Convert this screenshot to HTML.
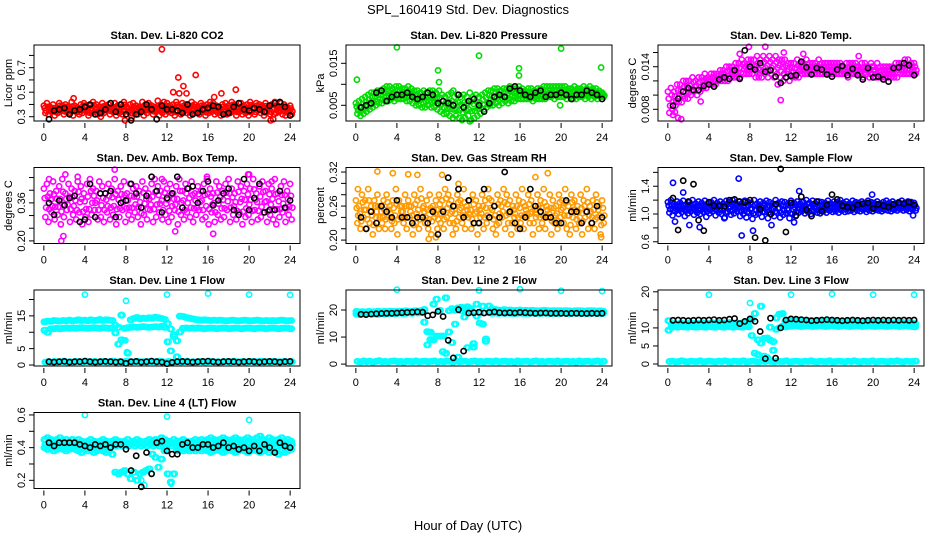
<!DOCTYPE html>
<html><head><meta charset="utf-8">
<style>
html,body{margin:0;padding:0;background:#fff;}
svg{display:block;font-family:"Liberation Sans",sans-serif;}
</style></head>
<body>
<svg id="chart" width="936" height="540" viewBox="0 0 936 540">
<rect x="0" y="0" width="936" height="540" fill="#fff"/>
<text x="468" y="14" font-size="13" text-anchor="middle">SPL_160419  Std. Dev. Diagnostics</text>
<text x="468" y="530" font-size="13" text-anchor="middle">Hour of Day (UTC)</text>
<g id="panels"></g>
</svg>
<script>
// shared time axes (hours)
const timesColored = [0,0.3,0.6,0.9,1.2,1.5,1.8,2.1,2.4,2.7,3,3.3,3.6,3.9,4.2,4.5,4.8,5.1,5.4,5.7,6,6.3,6.6,6.9,7.2,7.5,7.8,8.1,8.4,8.7,9,9.3,9.6,9.9,10.2,10.5,10.8,11.1,11.4,11.7,12,12.3,12.6,12.9,13.2,13.5,13.8,14.1,14.4,14.7,15,15.3,15.6,15.9,16.2,16.5,16.8,17.1,17.4,17.7,18,18.3,18.6,18.9,19.2,19.5,19.8,20.1,20.4,20.7,21,21.3,21.6,21.9,22.2,22.5,22.8,23.1,23.4,23.7,24];
const timesBlack = [0.5,1,1.5,2,2.5,3,3.5,4,4.5,5,5.5,6,6.5,7,7.5,8,8.5,9,9.5,10,10.5,11,11.5,12,12.5,13,13.5,14,14.5,15,15.5,16,16.5,17,17.5,18,18.5,19,19.5,20,20.5,21,21.5,22,22.5,23,23.5,24];
const xTicks = [0,4,8,12,16,20,24];

// P1 CO2
const co2A = [0.39,0.41,0.38,0.40,0.37,0.41,0.39,0.40,0.38,0.42,0.39,0.37,0.40,0.41,0.38,0.39,0.42,0.40,0.38,0.41,0.39,0.40,0.37,0.41,0.39,0.40,0.42,0.38,0.40,0.41,0.39,0.38,0.42,0.40,0.41,0.39,0.38,0.43,0.40,0.42,0.41,0.39,0.40,0.42,0.38,0.41,0.40,0.39,0.42,0.40,0.38,0.41,0.39,0.40,0.42,0.41,0.39,0.38,0.40,0.41,0.39,0.42,0.40,0.38,0.41,0.39,0.40,0.42,0.38,0.41,0.40,0.39,0.41,0.38,0.40,0.42,0.39,0.41,0.40,0.38,0.39];
const co2B = [0.33,0.32,0.34,0.31,0.33,0.35,0.32,0.34,0.33,0.31,0.34,0.32,0.33,0.35,0.31,0.33,0.34,0.32,0.30,0.33,0.35,0.32,0.34,0.31,0.33,0.32,0.35,0.34,0.29,0.33,0.32,0.34,0.31,0.33,0.35,0.32,0.34,0.31,0.33,0.32,0.34,0.33,0.31,0.35,0.32,0.34,0.33,0.31,0.33,0.34,0.32,0.35,0.31,0.33,0.34,0.32,0.33,0.31,0.34,0.32,0.33,0.35,0.31,0.34,0.32,0.33,0.31,0.34,0.32,0.35,0.33,0.31,0.34,0.32,0.28,0.33,0.34,0.32,0.31,0.33,0.32];
const co2OutT = [11.5,13.1,14.8,13.6,12.6,13.2,13.9,17.3,18.7,16.6,2.9,22.1,7.9];
const co2OutV = [0.85,0.62,0.64,0.55,0.50,0.49,0.49,0.49,0.52,0.46,0.45,0.27,0.27];
const co2Black = [0.28,0.35,0.36,0.37,0.32,0.35,0.36,0.38,0.40,0.32,0.33,0.36,0.41,0.34,0.40,0.32,0.27,0.32,0.34,0.40,0.36,0.28,0.39,0.36,0.36,0.35,0.33,0.40,0.32,0.33,0.36,0.37,0.39,0.38,0.32,0.33,0.38,0.41,0.36,0.35,0.37,0.36,0.34,0.39,0.41,0.42,0.38,0.31];

// P2 pressure
const presA = [.0055,.006,.0065,.007,.0075,.008,.008,.0085,.0085,.009,.0095,.0095,.009,.0095,.0095,.009,.009,.0095,.009,.0085,.0085,.008,.0085,.008,.0085,.0085,.008,.0085,.0075,.007,.0075,.008,.007,.0075,.007,.0075,.007,.008,.007,.0075,.007,.0075,.008,.0085,.0085,.009,.009,.0085,.009,.009,.0095,.009,.009,.0095,.009,.0085,.009,.009,.0085,.009,.009,.0095,.0095,.0095,.0095,.0095,.0095,.0095,.0095,.009,.009,.0095,.009,.009,.0095,.009,.0095,.009,.009,.0085,.008];
const presB = [.003,.0025,.003,.0035,.004,.0045,.005,.0055,.0055,.006,.006,.0065,.006,.0065,.0065,.0065,.006,.006,.0055,.005,.005,.0045,.0045,.005,.0045,.0045,.004,.0035,.003,.003,.0025,.002,.0025,.002,.0015,.002,.0025,.0015,.002,.0025,.003,.004,.0045,.005,.005,.0055,.005,.0055,.006,.0055,.006,.006,.0065,.0065,.0065,.0065,.0065,.006,.0065,.0065,.0065,.0065,.007,.007,.0065,.007,.007,.007,.0065,.007,.0065,.0065,.007,.007,.0065,.007,.0065,.007,.0065,.007,.007];
const presOutT = [0.1,4.0,12.0,20.0,23.9,8.0,8.1,15.9,15.9,9.5,19.9,11.1];
const presOutV = [.0111,.0188,.0168,.0185,.0140,.0133,.0105,.0138,.0121,.0085,.005,.0012];
const presBlack = [.0045,.005,.0055,.008,.0085,.006,.007,.0075,.0075,.008,.007,.0065,.007,.008,.0075,.0055,.006,.0055,.005,.0075,.0045,.006,.0065,.005,.0035,.0055,.007,.0075,.007,.009,.0095,.0085,.0075,.007,.008,.0085,.007,.0075,.0075,.008,.0075,.0065,.0075,.0075,.0085,.008,.0075,.0065];

// P3 Li-820 temp
const ltA = [.0105,.011,.0105,.0115,.0115,.012,.012,.012,.0125,.012,.0125,.0125,.013,.0125,.013,.013,.013,.0135,.0135,.014,.014,.014,.0145,.0145,.015,.0145,.015,.015,.015,.0155,.015,.0155,.015,.0155,.015,.0155,.015,.015,.015,.0145,.0145,.0145,.015,.0145,.0145,.015,.0145,.0145,.0145,.015,.0145,.0145,.0145,.0145,.0145,.0145,.0145,.014,.0145,.0145,.0145,.0145,.014,.0145,.0145,.014,.0145,.014,.0145,.014,.014,.014,.014,.014,.0145,.0145,.0145,.015,.015,.0145,.0145];
const ltB = [.0075,.008,.0085,.009,.009,.0095,.0095,.01,.0105,.01,.0105,.011,.011,.0115,.0115,.0115,.012,.012,.012,.012,.0125,.0125,.0125,.0125,.013,.013,.013,.013,.0125,.0125,.0125,.013,.0125,.013,.0125,.013,.0125,.012,.0125,.012,.0125,.0125,.0125,.013,.013,.013,.013,.013,.013,.013,.013,.013,.013,.013,.013,.013,.013,.013,.0125,.013,.013,.013,.013,.0125,.013,.0125,.013,.0125,.0125,.0125,.0125,.0125,.0125,.0125,.0125,.013,.013,.013,.013,.013,.013];
const ltOutT = [0.5,1.0,1.3,0.7,3.2,7.0,7.9,9.5,11.0,11.3,13.2,18.6,10.7];
const ltOutV = [.0072,.0068,.0066,.0076,.0091,.0158,.0168,.0168,.0093,.0160,.0158,.0155,.0115];
const ltBlack = [.0085,.0095,.0105,.011,.0107,.0107,.0113,.0115,.0112,.0122,.0125,.0123,.0135,.0123,.0163,.014,.0136,.0145,.0133,.0135,.0126,.0117,.0125,.0127,.0128,.0147,.0139,.0129,.0138,.0136,.0129,.0126,.0136,.0141,.0128,.0137,.0128,.0122,.0138,.0125,.0126,.0122,.0119,.0138,.0139,.0145,.0142,.0128];

// P4 ambient box temp
const abA = [.42,.44,.40,.45,.41,.43,.46,.40,.44,.42,.41,.45,.43,.40,.44,.46,.42,.41,.45,.43,.40,.44,.42,.46,.41,.43,.45,.40,.44,.42,.43,.41,.45,.42,.40,.44,.46,.43,.41,.45,.42,.44,.40,.43,.46,.41,.44,.42,.45,.40,.43,.41,.44,.46,.42,.40,.45,.43,.41,.44,.46,.42,.40,.45,.43,.41,.44,.42,.46,.40,.43,.45,.41,.44,.42,.46,.40,.43,.45,.41,.44];
const abB = [.30,.28,.32,.29,.31,.27,.30,.33,.28,.31,.29,.32,.27,.30,.28,.31,.33,.29,.30,.28,.32,.29,.31,.27,.30,.33,.28,.31,.29,.32,.30,.27,.31,.29,.33,.28,.30,.32,.29,.31,.28,.30,.33,.27,.31,.29,.32,.30,.28,.31,.33,.29,.30,.27,.32,.28,.31,.29,.30,.33,.28,.31,.29,.32,.27,.30,.31,.28,.33,.29,.30,.32,.28,.31,.29,.27,.30,.32,.28,.31,.29];
const abOutT = [1.7,1.9,6.9,0.5,2.1,3.3,11.5,15.9,20.0,12.8,16.5,19.9,22.2];
const abOutV = [.20,.22,.50,.46,.48,.47,.46,.47,.48,.24,.23,.48,.45];
const abBlack = [.36,.31,.37,.35,.38,.39,.28,.29,.44,.30,.40,.40,.41,.30,.36,.37,.44,.40,.34,.39,.47,.41,.32,.38,.40,.47,.34,.42,.43,.36,.41,.45,.35,.37,.40,.42,.33,.31,.46,.33,.38,.44,.32,.33,.33,.41,.34,.37];

// P5 gas stream RH
const rhA = [.27,.26,.28,.27,.29,.26,.27,.28,.26,.27,.28,.26,.27,.29,.27,.26,.28,.27,.26,.28,.27,.29,.26,.27,.28,.26,.27,.28,.27,.29,.28,.27,.26,.28,.27,.29,.26,.27,.28,.27,.26,.28,.27,.29,.27,.26,.28,.27,.29,.28,.27,.26,.28,.27,.29,.26,.28,.27,.26,.28,.27,.29,.26,.28,.27,.26,.28,.27,.29,.26,.28,.27,.26,.28,.27,.29,.26,.27,.28,.26,.27];
const rhB = [.23,.22,.24,.22,.23,.21,.24,.22,.23,.22,.24,.22,.23,.21,.24,.23,.22,.24,.21,.23,.22,.24,.23,.22,.21,.24,.22,.23,.22,.24,.23,.21,.22,.24,.23,.22,.24,.22,.23,.21,.24,.22,.23,.24,.22,.21,.23,.24,.22,.23,.21,.24,.22,.23,.22,.24,.23,.21,.24,.22,.23,.22,.24,.21,.23,.22,.24,.23,.22,.21,.24,.22,.23,.21,.24,.22,.23,.22,.24,.21,.23];
const rhOutT = [2.1,3.6,5.1,6.0,8.4,10.0,17.5,18.7,0.2,23.9,7.1,7.8];
const rhOutV = [.321,.318,.316,.315,.315,.299,.311,.318,.29,.205,.202,.205];
const rhBlack = [.24,.22,.25,.23,.26,.25,.24,.27,.24,.24,.23,.24,.24,.23,.25,.21,.25,.31,.26,.29,.24,.27,.23,.23,.29,.24,.26,.24,.32,.25,.23,.22,.24,.29,.26,.25,.24,.24,.23,.23,.27,.25,.25,.23,.25,.23,.26,.24];

// P6 sample flow
const sfA = [1.17,1.2,1.15,1.18,1.16,1.19,1.14,1.17,1.2,1.15,1.18,1.16,1.19,1.15,1.17,1.2,1.16,1.18,1.15,1.19,1.17,1.2,1.16,1.18,1.15,1.19,1.17,1.16,1.2,1.15,1.18,1.16,1.19,1.17,1.15,1.2,1.16,1.18,1.17,1.15,1.19,1.16,1.18,1.15,1.17,1.2,1.16,1.19,1.15,1.18,1.17,1.16,1.19,1.15,1.18,1.17,1.2,1.16,1.18,1.15,1.19,1.17,1.16,1.18,1.15,1.19,1.17,1.16,1.18,1.15,1.17,1.19,1.16,1.18,1.15,1.17,1.19,1.16,1.18,1.17,1.16];
const sfB = [1.02,0.98,1.04,1.0,1.03,0.97,1.01,1.04,0.99,1.02,1.0,1.03,0.96,1.01,1.04,0.98,1.02,1.0,0.95,1.03,0.99,1.01,1.04,0.97,1.0,0.95,1.02,0.93,0.99,1.01,0.96,1.03,0.94,1.0,0.97,1.02,0.95,0.99,1.01,0.94,1.0,0.97,1.02,1.04,1.01,1.03,1.0,1.04,1.02,1.01,1.04,1.02,1.05,1.03,1.04,1.02,1.05,1.03,1.04,1.05,1.03,1.05,1.04,1.06,1.03,1.05,1.04,1.06,1.05,1.04,1.06,1.05,1.04,1.06,1.05,1.07,1.05,1.06,1.04,1.06,1.05];
const sfOutT = [0.5,0.7,1.5,2.1,3.1,6.9,7.2,8.3,10.1,12.8,19.9,23.9,5.5,12.3];
const sfOutV = [1.45,0.89,1.31,0.84,0.81,1.51,0.69,0.76,0.84,1.33,1.28,0.98,0.94,0.88];
const sfBlack = [1.23,0.77,1.48,1.18,1.43,0.91,0.76,1.17,1.12,1.12,1.11,1.2,1.21,1.18,1.17,1.2,0.66,1.07,0.62,1.0,1.14,1.65,0.74,1.16,0.98,1.25,1.06,0.97,1.18,1.04,1.13,1.28,1.21,1.12,1.1,1.09,1.13,1.15,1.16,1.08,1.14,1.12,1.1,1.14,1.16,1.15,1.17,1.13];

// P7 line 1 flow
const l1A = [13.2,13.4,13.3,13.6,13.5,13.4,13.6,13.5,13.7,13.5,13.6,13.8,13.6,13.7,13.5,13.8,13.6,13.7,13.9,13.6,13.8,13.7,13.6,12.1,11.5,15.2,7.5,3.6,13.8,14.2,14.5,14.1,14.3,14.2,14.4,14.3,14.6,14.4,14.2,13.9,7.1,4.3,8.6,2.5,14.9,14.8,14.5,14.3,14.1,13.9,13.8,13.7,13.8,13.7,13.6,13.7,13.6,13.7,13.6,13.5,13.6,13.7,13.6,13.5,13.6,13.7,13.6,13.5,13.6,13.7,13.6,13.5,13.6,13.5,13.6,13.5,13.6,13.7,13.6,13.5,13.6];
const l1B = [10.6,10.0,11.0,11.1,11.2,11.1,11.2,11.3,11.2,11.3,11.2,11.3,11.4,11.3,11.2,11.3,11.4,11.3,11.2,11.4,11.3,11.2,11.3,9.8,6.4,7.7,11.2,11.4,11.5,11.6,11.5,11.6,11.7,11.6,11.5,11.6,11.7,11.6,11.8,11.5,12.6,11.0,9.3,7.4,10.1,11.2,11.3,11.2,11.3,11.2,11.3,11.2,11.1,11.2,11.3,11.2,11.1,11.2,11.3,11.2,11.1,11.2,11.3,11.2,11.1,11.2,11.3,11.2,11.1,11.2,11.3,11.2,11.1,11.2,11.3,11.2,11.1,11.2,11.3,11.2,11.1];
const l1C = [0.9,1.0,0.8,1.1,0.9,1.0,1.2,0.9,1.0,0.8,1.1,1.0,0.9,1.2,1.0,0.9,1.1,0.8,1.0,1.1,0.9,1.0,1.2,0.9,1.0,0.8,1.1,1.0,0.9,1.0,1.1,0.9,1.0,0.8,1.1,1.0,0.9,1.2,1.0,0.9,1.1,0.8,1.0,1.1,0.9,1.0,1.2,0.9,1.0,0.8,1.1,1.0,0.9,1.0,1.1,0.9,1.0,0.8,1.1,1.0,0.9,1.2,1.0,0.9,1.1,0.8,1.0,1.1,0.9,1.0,1.2,0.9,1.0,0.8,1.1,1.0,0.9,1.0,1.1,0.9,1.0];
const l1OutT = [4,12,16,20,24,8.0,7.6,8.1];
const l1OutV = [21.5,21.5,21.8,21.5,21.4,19.6,15.3,3.9];
const l1Black = [1.0,0.9,1.0,1.1,0.9,1.0,1.0,1.2,1.0,0.9,1.0,1.1,1.0,0.9,1.0,0.5,1.0,1.1,0.9,1.0,1.2,1.0,0.9,0.4,0.8,1.0,1.1,1.0,0.9,1.0,1.1,1.2,1.0,0.9,1.0,1.1,1.0,0.9,1.0,1.1,1.0,0.9,1.0,1.1,1.0,0.9,1.0,1.1];

// P8 line 2 flow
const l2A = [19.5,19.3,19.4,19.2,19.5,19.3,19.4,19.6,19.3,19.5,19.4,19.6,19.5,19.4,19.6,19.5,19.7,19.6,19.5,19.7,19.6,19.8,20.2,12.0,11.8,22.2,24.0,10.3,10.4,24.5,11.9,20.5,14.8,20.8,21.0,20.7,21.2,20.5,6.3,22.2,15.2,21.4,9.3,21.5,20.4,20.2,20.0,19.9,20.1,19.9,20.0,19.8,19.9,20.0,19.8,19.9,19.8,19.9,19.8,19.7,19.8,19.9,19.8,19.7,19.8,19.7,19.8,19.7,19.8,19.7,19.6,19.7,19.8,19.7,19.6,19.7,19.8,19.7,19.6,19.7,19.6];
const l2B = [18.5,18.3,18.6,18.4,18.7,18.5,18.6,18.4,18.7,18.5,18.6,18.8,18.6,18.7,18.9,18.7,18.8,19.0,18.8,19.1,18.9,19.0,15.5,7.1,9.1,8.9,10.3,19.9,4.6,4.0,19.8,8.0,19.9,2.5,19.7,17.4,6.1,19.5,7.6,17.8,18.9,14.8,8.4,19.0,18.8,18.9,18.8,18.9,18.8,18.9,18.8,18.7,18.8,18.9,18.8,18.7,18.8,18.9,18.8,18.7,18.8,18.9,18.8,18.7,18.8,18.7,18.8,18.9,18.8,18.7,18.8,18.9,18.8,18.7,18.8,18.7,18.8,18.9,18.8,18.7,18.8];
const l2C = [1.0,0.8,1.2,0.9,1.1,0.7,1.0,1.3,0.9,1.0,0.8,1.1,1.2,0.9,1.0,0.7,1.1,1.0,0.9,1.2,0.8,1.0,1.1,0.9,1.0,1.2,0.8,1.0,0.9,1.1,1.0,0.7,1.2,0.9,1.0,1.1,0.8,1.0,1.2,0.9,1.0,0.8,1.1,1.0,0.9,1.2,0.8,1.0,1.1,0.9,1.0,0.7,1.2,0.9,1.0,1.1,0.8,1.0,1.2,0.9,1.0,0.8,1.1,1.0,0.9,1.2,0.8,1.0,1.1,0.9,1.0,0.7,1.2,0.9,1.0,1.1,0.8,1.0,1.2,0.9,1.0];
const l2OutT = [4,12,16,20,24];
const l2OutV = [27.5,27.3,27.7,27.1,27.0];
const l2Black = [18.4,18.3,18.5,18.6,18.7,18.8,18.8,18.9,19.0,19.1,19.2,19.3,19.2,17.9,18.2,19.5,17.6,8.8,2.3,20.1,4.8,18.9,19.0,19.2,18.9,19.1,19.3,19.0,18.9,19.0,18.9,19.1,19.0,18.9,18.8,18.9,18.9,18.8,18.8,18.8,18.7,18.8,18.8,18.7,18.7,18.8,18.7,18.8];

// P9 line 3 flow
const l3A = [12.0,11.0,11.2,11.0,11.3,11.1,11.2,11.4,11.2,11.3,11.1,11.4,11.3,11.2,11.4,11.3,11.5,11.3,11.4,11.2,11.5,11.3,11.4,11.2,11.4,11.6,11.8,12.3,14.0,6.7,16.0,7.1,7.2,10.2,6.2,12.8,13.8,14.0,11.8,12.2,11.8,12.0,11.9,12.1,11.9,12.0,11.8,11.9,12.0,11.8,11.9,11.8,11.7,11.8,11.9,11.8,11.7,11.8,11.7,11.6,11.7,11.8,11.7,11.6,11.7,11.6,11.5,11.6,11.7,11.6,11.5,11.6,11.5,11.4,11.5,11.6,11.5,11.4,11.5,11.4,11.2];
const l3B = [9.4,10.2,10.3,10.2,10.4,10.3,10.2,10.4,10.3,10.2,10.4,10.3,10.2,10.4,10.3,10.2,10.4,10.3,10.2,10.4,10.3,10.2,10.4,10.3,10.2,10.4,10.3,7.9,3.0,2.6,5.8,2.2,1.8,6.6,3.8,9.6,10.0,10.5,10.3,10.4,10.5,10.6,10.5,10.4,10.5,10.6,10.5,10.4,10.5,10.6,10.5,10.4,10.5,10.6,10.5,10.4,10.5,10.6,10.5,10.4,10.5,10.6,10.5,10.4,10.5,10.6,10.5,10.4,10.5,10.6,10.5,10.4,10.5,10.6,10.5,10.4,10.5,10.6,10.5,10.4,10.3];
const l3C = [0.7,0.8,0.6,0.7,0.9,0.7,0.6,0.8,0.7,0.7,0.9,0.6,0.7,0.8,0.7,0.6,0.8,0.7,0.9,0.7,0.6,0.8,0.7,0.7,0.9,0.6,0.7,0.8,0.7,0.6,0.8,0.7,0.9,0.7,0.6,0.8,0.7,0.7,0.9,0.6,0.7,0.8,0.7,0.6,0.8,0.7,0.9,0.7,0.6,0.8,0.7,0.7,0.9,0.6,0.7,0.8,0.7,0.6,0.8,0.7,0.9,0.7,0.6,0.8,0.7,0.7,0.9,0.6,0.7,0.8,0.7,0.6,0.8,0.7,0.9,0.7,0.6,0.8,0.7,0.7,0.8];
const l3OutT = [4,12,16,20,24,8.0];
const l3OutV = [19.2,19.2,19.4,19.2,19.2,16.9];
const l3Black = [12.1,12.2,12.1,12.0,12.1,12.2,12.1,12.2,12.3,12.1,12.2,12.4,12.6,11.2,11.8,12.5,11.8,9.0,1.5,12.7,1.6,10.0,12.2,12.5,12.4,12.3,12.2,12.0,12.1,12.2,12.3,12.2,12.1,12.0,12.1,12.2,12.1,12.0,12.1,12.2,12.1,12.2,12.1,12.2,12.1,12.2,12.1,12.2];

// P10 line 4 flow
const l4A = [0.45,0.46,0.45,0.44,0.45,0.46,0.44,0.45,0.44,0.45,0.44,0.45,0.44,0.43,0.44,0.45,0.44,0.43,0.44,0.45,0.44,0.43,0.44,0.45,0.44,0.43,0.44,0.45,0.43,0.44,0.45,0.44,0.43,0.44,0.45,0.44,0.45,0.44,0.46,0.45,0.44,0.43,0.45,0.44,0.44,0.45,0.44,0.43,0.44,0.45,0.44,0.45,0.44,0.45,0.46,0.45,0.44,0.45,0.46,0.45,0.44,0.45,0.46,0.45,0.44,0.45,0.46,0.45,0.44,0.46,0.47,0.45,0.44,0.46,0.45,0.44,0.45,0.46,0.44,0.45,0.44];
const l4B = [0.40,0.39,0.40,0.38,0.39,0.40,0.39,0.38,0.39,0.40,0.39,0.38,0.37,0.39,0.38,0.39,0.37,0.38,0.39,0.38,0.37,0.38,0.36,0.25,0.24,0.25,0.26,0.24,0.21,0.25,0.20,0.24,0.25,0.26,0.27,0.36,0.34,0.28,0.33,0.38,0.24,0.19,0.24,0.38,0.39,0.38,0.39,0.38,0.39,0.38,0.39,0.38,0.39,0.38,0.37,0.38,0.39,0.38,0.37,0.38,0.39,0.38,0.37,0.38,0.39,0.38,0.37,0.38,0.39,0.38,0.37,0.38,0.39,0.37,0.38,0.37,0.36,0.38,0.37,0.38,0.39];
const l4C = [0.42,0.41,0.42,0.41,0.42,0.41,0.42,0.41,0.42,0.41,0.42,0.41,0.42,0.41,0.42,0.41,0.42,0.41,0.42,0.41,0.42,0.41,0.42,0.41,0.42,0.41,0.42,0.41,0.42,0.41,0.42,0.41,0.42,0.41,0.42,0.41,0.42,0.41,0.42,0.41,0.42,0.41,0.42,0.41,0.42,0.41,0.42,0.41,0.42,0.41,0.42,0.41,0.42,0.41,0.42,0.41,0.42,0.41,0.42,0.41,0.42,0.41,0.42,0.41,0.42,0.41,0.42,0.41,0.42,0.41,0.42,0.41,0.42,0.41,0.42,0.41,0.42,0.41,0.42,0.41,0.42];
const l4OutT = [4,12,20,9.5,10.5,9.8,12.4];
const l4OutV = [0.6,0.59,0.57,0.2,0.24,0.17,0.18];
const l4Black = [.43,.41,.43,.43,.43,.43,.42,.41,.40,.42,.41,.42,.40,.42,.42,.39,.26,.35,.16,.37,.24,.43,.44,.38,.36,.36,.42,.43,.40,.40,.42,.42,.40,.41,.43,.40,.41,.39,.40,.38,.41,.38,.42,.40,.37,.43,.41,.40];

const panels = [
 {name:'co2',title:'Stan. Dev. Li-820 CO2',ylab:'Licor ppm',col:0,row:0,ymin:0.265,ymax:0.885,ticks:[0.3,0.4,0.5,0.6,0.7,0.8],labels:['0.3','','0.5','','0.7',''],color:'#ff0000',A:co2A,B:co2B,C:null,mid:true,oT:co2OutT,oV:co2OutV,K:co2Black},
 {name:'pressure',title:'Stan. Dev. Li-820 Pressure',ylab:'kPa',col:1,row:0,ymin:0.00126,ymax:0.01936,ticks:[0.005,0.010,0.015],labels:['0.005','','0.015'],color:'#00dd00',A:presA,B:presB,C:null,mid:true,oT:presOutT,oV:presOutV,K:presBlack},
 {name:'li820-temp',title:'Stan. Dev. Li-820 Temp.',ylab:'degrees C',col:2,row:0,ymin:0.00635,ymax:0.01706,ticks:[0.008,0.010,0.012,0.014,0.016],labels:['0.008','','','0.014',''],color:'#ff00ff',A:ltA,B:ltB,C:null,mid:true,oT:ltOutT,oV:ltOutV,K:ltBlack},
 {name:'amb-box-temp',title:'Stan. Dev. Amb. Box Temp.',ylab:'degrees C',col:0,row:1,ymin:0.189,ymax:0.509,ticks:[0.20,0.2533,0.3067,0.36,0.4133,0.4667],labels:['0.20','','','0.36','',''],color:'#ff00ff',A:abA,B:abB,C:null,mid:true,oT:abOutT,oV:abOutV,K:abBlack},
 {name:'gas-stream-rh',title:'Stan. Dev. Gas Stream RH',ylab:'percent',col:1,row:1,ymin:0.194,ymax:0.328,ticks:[0.20,0.22,0.24,0.26,0.28,0.30,0.32],labels:['0.20','','','0.26','','','0.32'],color:'#ff9900',A:rhA,B:rhB,C:null,mid:true,oT:rhOutT,oV:rhOutV,K:rhBlack},
 {name:'sample-flow',title:'Stan. Dev. Sample Flow',ylab:'ml/min',col:2,row:1,ymin:0.575,ymax:1.67,ticks:[0.6,0.8,1.0,1.2,1.4,1.6],labels:['0.6','','1.0','','1.4',''],color:'#0000ff',A:sfA,B:sfB,C:null,mid:true,oT:sfOutT,oV:sfOutV,K:sfBlack},
 {name:'line1-flow',title:'Stan. Dev. Line 1 Flow',ylab:'ml/min',col:0,row:2,ymin:-0.3,ymax:22.9,ticks:[0,5,10,15,20],labels:['0','5','','15',''],color:'#00ffff',A:l1A,B:l1B,C:l1C,mid:false,oT:l1OutT,oV:l1OutV,K:l1Black},
 {name:'line2-flow',title:'Stan. Dev. Line 2 Flow',ylab:'ml/min',col:1,row:2,ymin:-0.7,ymax:27.4,ticks:[0,10,20],labels:['0','10','20'],color:'#00ffff',A:l2A,B:l2B,C:l2C,mid:false,oT:l2OutT,oV:l2OutV,K:l2Black},
 {name:'line3-flow',title:'Stan. Dev. Line 3 Flow',ylab:'ml/min',col:2,row:2,ymin:-0.55,ymax:20.5,ticks:[0,5,10,15,20],labels:['0','5','10','','20'],color:'#00ffff',A:l3A,B:l3B,C:l3C,mid:false,oT:l3OutT,oV:l3OutV,K:l3Black},
 {name:'line4-flow',title:'Stan. Dev. Line 4 (LT) Flow',ylab:'ml/min',col:0,row:3,ymin:0.15,ymax:0.615,ticks:[0.2,0.3,0.4,0.5,0.6],labels:['0.2','','0.4','','0.6'],color:'#00ffff',A:l4A,B:l4B,C:l4C,mid:false,oT:l4OutT,oV:l4OutV,K:l4Black}
];

const NS='http://www.w3.org/2000/svg';
const root=document.getElementById('panels');
function mk(tag,attrs,parent){const e=document.createElementNS(NS,tag);for(const k in attrs)e.setAttribute(k,attrs[k]);parent.appendChild(e);return e;}

panels.forEach(p=>{
  const L=34+p.col*312, R=L+266, T=45+p.row*122.5, B=T+76;
  const xs=h=>L+(h+0.96)/25.92*(R-L);
  const ys=v=>B-(v-p.ymin)/(p.ymax-p.ymin)*(B-T);
  const g=mk('g',{},root);
  
  
  const t=mk('text',{x:(L+R)/2,y:T-6,'font-size':11,'font-weight':'bold','text-anchor':'middle'},g);
  t.textContent=p.title;
  
  
  const pts=mk('g',{fill:'none','stroke-width':1.6},g);
  
  
  function dot(h,v,c,nm){
    const cc=mk('circle',{cx:xs(h).toFixed(1),cy:ys(v).toFixed(1),r:2.6,stroke:c},pts);
    
    
  }
  timesColored.forEach((h,i)=>{
    dot(h,p.A[i],p.color,'point-upper');
    dot(h+0.15,p.B[i],p.color,'point-lower');
    if(p.mid){
      dot(h+0.08,(2*p.A[i]+p.B[i])/3,p.color,'point-mid');
      dot(h+0.22,(p.A[i]+2*p.B[i])/3,p.color,'point-mid');
    } else {
      dot(h+0.15,p.A[i],p.color,'point-upper');
      dot(h,p.B[i],p.color,'point-lower');
    }
    if(p.C){
      dot(h+0.1,p.C[i],p.color,'point-base');
      dot(h+0.22,p.C[i],p.color,'point-base');
    }
  });
  p.oT.forEach((h,i)=>dot(h,p.oV[i],p.color,'point-outlier'));
  timesBlack.forEach((h,i)=>dot(h,p.K[i],'#000','point-reference'));
  const box=mk('rect',{x:L,y:T,width:R-L,height:B-T,fill:'none',stroke:'#000','stroke-width':1},g);
  
  
  const xa=mk('g',{},g);
  
  
  xTicks.forEach(h=>{
    mk('line',{x1:xs(h),x2:xs(h),y1:B+2,y2:B+7,stroke:'#000'},xa);
    const tl=mk('text',{x:xs(h),y:B+20,'font-size':11,'text-anchor':'middle'},xa);
    tl.textContent=h;
  });
  const ya=mk('g',{},g);
  
  
  p.ticks.forEach((v,i)=>{
    const y=ys(v);
    mk('line',{x1:L-5,x2:L,y1:y,y2:y,stroke:'#000'},ya);
    if(p.labels[i]){
      const tl=mk('text',{x:L-9,y:y,'font-size':11,'text-anchor':'middle',transform:`rotate(-90 ${L-9} ${y})`},ya);
      tl.textContent=p.labels[i];
    }
  });
  const yl=mk('text',{x:L-22,y:(T+B)/2,'font-size':11,'text-anchor':'middle',transform:`rotate(-90 ${L-22} ${(T+B)/2})`},g);
  yl.textContent=p.ylab;
  
  
});
</script>
</body></html>
